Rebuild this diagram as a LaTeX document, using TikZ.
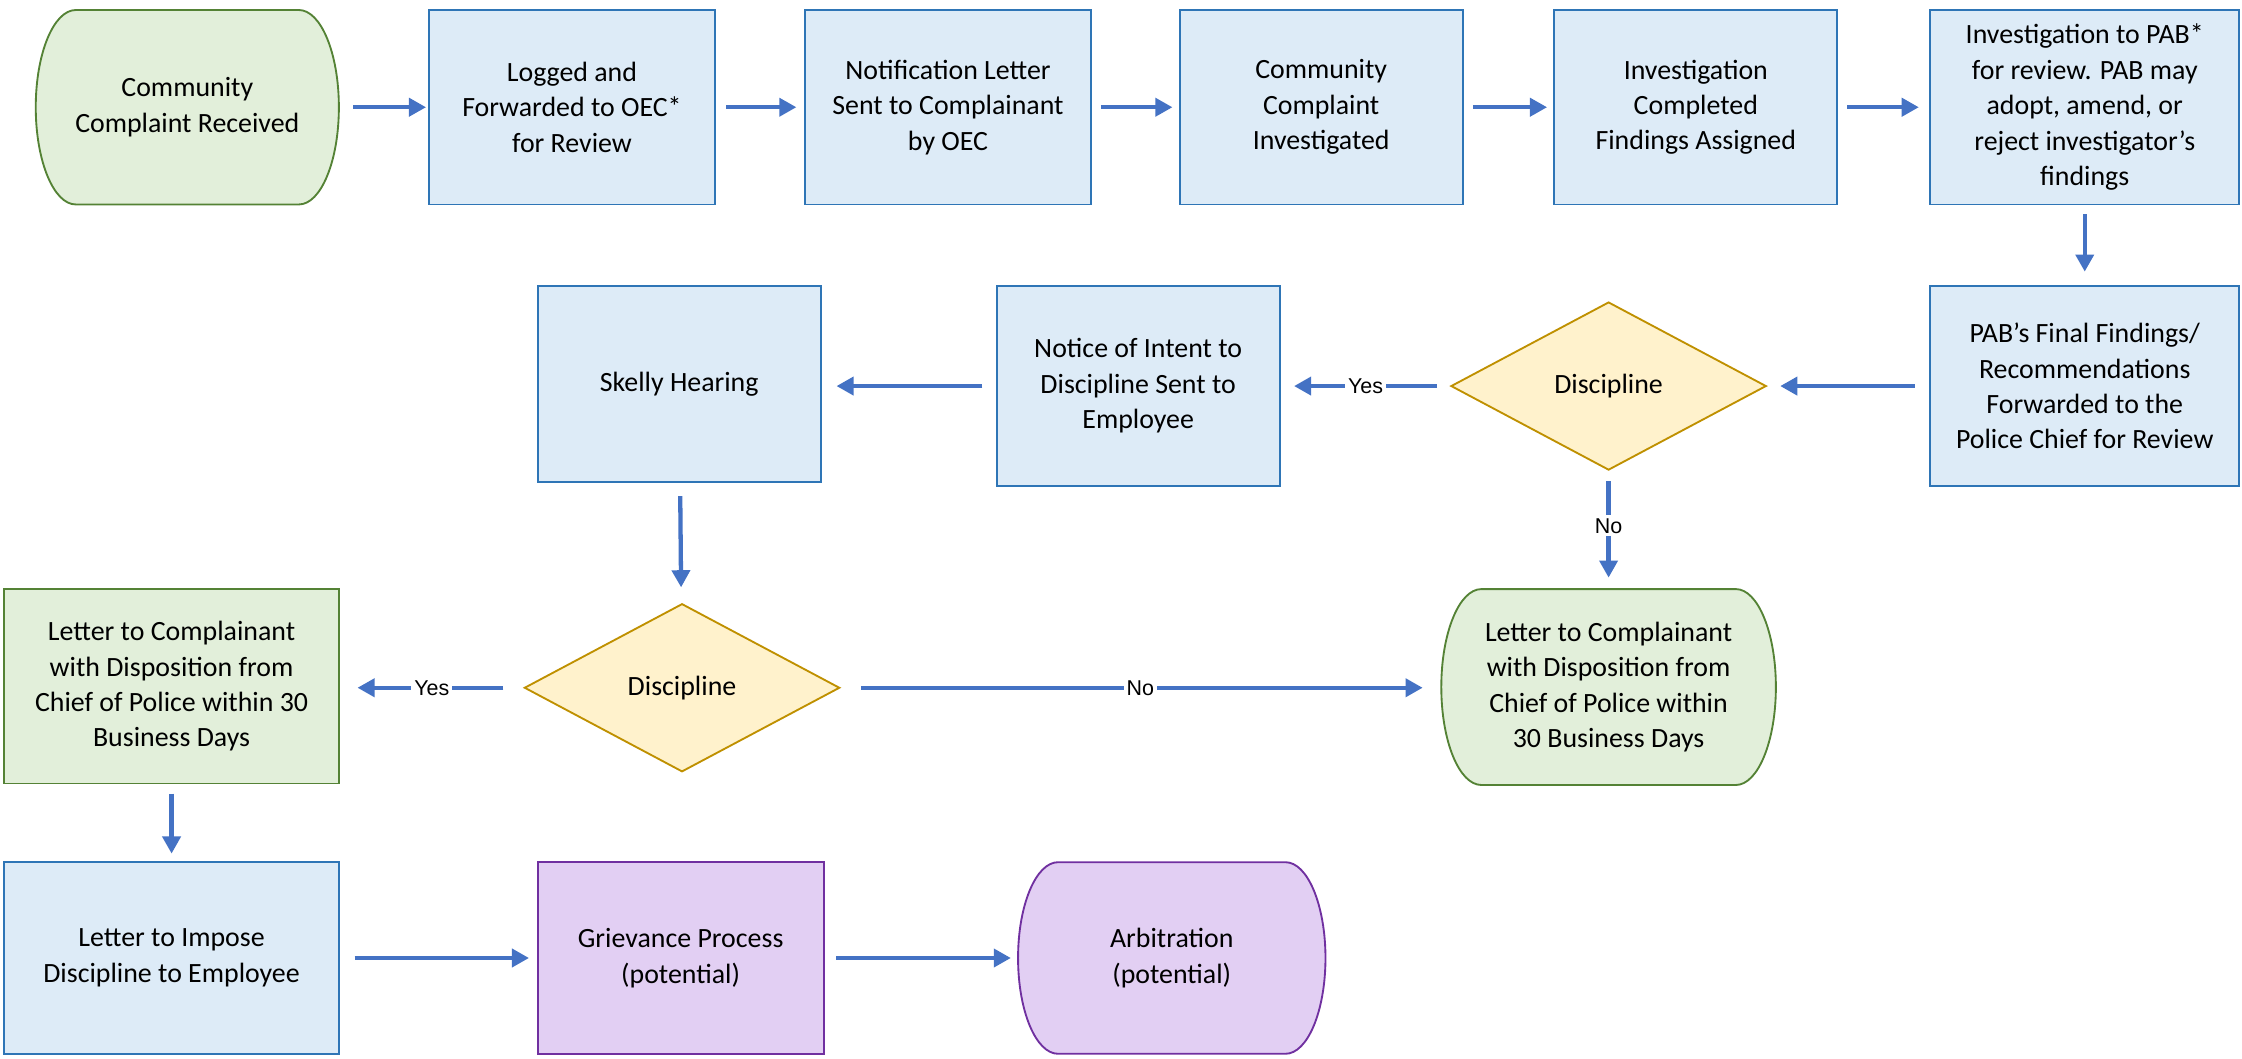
\documentclass[tikz,border=0pt]{standalone}
\usepackage{fontspec}
\setmainfont{Carlito}
\newfontfamily\lblfont{Liberation Sans}
\usetikzlibrary{shapes.geometric,arrows.meta,backgrounds}
\definecolor{bluefill}{HTML}{DDEBF7}
\definecolor{blueline}{HTML}{2E75B6}
\definecolor{greenfill}{HTML}{E2EFDA}
\definecolor{greenline}{HTML}{548235}
\definecolor{yelfill}{HTML}{FFF2CC}
\definecolor{yelline}{HTML}{BF9000}
\definecolor{purfill}{HTML}{E2CFF3}
\definecolor{purline}{HTML}{7030A0}
\definecolor{arrowblue}{HTML}{4472C4}
\newcommand\termshape[4]{%
  \begin{scope}[on background layer]
  \path[draw=#3, fill=#2, line width=1.3]
    ([xshift=28pt]#1.north west) -- ([xshift=-28pt]#1.north east)
    arc[start angle=90,end angle=-90,x radius=28,y radius=#4]
    -- ([xshift=28pt]#1.south west)
    arc[start angle=270,end angle=90,x radius=28,y radius=#4] -- cycle;
  \end{scope}}
\tikzset{
  boxtext/.style={align=center, font=\fontsize{19.5}{24.8}\selectfont, inner sep=0pt, outer sep=0pt},
  bluebox/.style={boxtext, draw=blueline, fill=bluefill, line width=1.3, rectangle},
  greenbox/.style={boxtext, draw=greenline, fill=greenfill, line width=1.3, rectangle},
  purbox/.style={boxtext, draw=purline, fill=purfill, line width=1.3, rectangle},
  termnode/.style={boxtext, rectangle},
  decision/.style={boxtext, diamond, aspect=1.9, draw=yelline, fill=yelfill, line width=1.3, minimum width=220, minimum height=117},
  arr/.style={draw=arrowblue, line width=3, -{Triangle[width=12.5,length=12]}},
  lbl/.style={fill=white, inner sep=2pt, font=\lblfont\fontsize{15}{18}\selectfont, text=black},
}
\begin{document}
\begin{tikzpicture}[x=1pt,y=1pt]
\useasboundingbox (0,0) rectangle (1568,-740.6);
% row 1
\node[termnode, minimum width=212, minimum height=136] (n1) at (131,-75) {Community\\Complaint Received};
\termshape{n1}{greenfill}{greenline}{68}
\node[bluebox, minimum width=200, minimum height=136] (n2) at (400,-75) {Logged and\\Forwarded to OEC*\\for Review};
\node[bluebox, minimum width=200, minimum height=136] (n3) at (663,-75) {Notification Letter\\Sent to Complainant\\by OEC};
\node[bluebox, minimum width=198, minimum height=136] (n4) at (924,-75) {Community\\Complaint\\Investigated};
\node[bluebox, minimum width=198, minimum height=136] (n5) at (1186,-75) {Investigation\\Completed\\Findings Assigned};
\node[bluebox, minimum width=216, minimum height=136] (n6) at (1458,-75) {Investigation to PAB*\\for review. PAB may\\adopt, amend, or\\reject investigator’s\\findings};
% row 2
\node[bluebox, minimum width=216, minimum height=140] (n7) at (1458,-270) {PAB’s Final Findings/\\Recommendations\\Forwarded to the\\Police Chief for Review};
\node[decision] (d1) at (1125,-270) {Discipline};
\node[bluebox, minimum width=198, minimum height=140] (n8) at (796,-270) {Notice of Intent to\\Discipline Sent to\\Employee};
\node[bluebox, minimum width=198, minimum height=137] (n9) at (475,-268.5) {Skelly Hearing};
% row 3
\node[decision] (d2) at (477,-481) {Discipline};
\node[termnode, minimum width=234, minimum height=137] (t2) at (1125,-480.5) {Letter to Complainant\\with Disposition from\\Chief of Police within\\30 Business Days};
\termshape{t2}{greenfill}{greenline}{68.5}
\node[greenbox, minimum width=234, minimum height=136] (g1) at (120,-480) {Letter to Complainant\\with Disposition from\\Chief of Police within 30\\Business Days};
% row 4
\node[bluebox, minimum width=234, minimum height=134] (n10) at (120,-670) {Letter to Impose\\Discipline to Employee};
\node[purbox, minimum width=200, minimum height=134] (p1) at (476,-670) {Grievance Process\\(potential)};
\node[termnode, minimum width=215, minimum height=134] (p2) at (819.5,-670) {Arbitration\\(potential)};
\termshape{p2}{purfill}{purline}{67}
% connectors
\draw[arr, shorten <=10, shorten >=2] (n1) -- (n2);
\draw[arr, shorten <=8, shorten >=6] (n2) -- (n3);
\draw[arr, shorten <=7, shorten >=5] (n3) -- (n4);
\draw[arr, shorten <=7, shorten >=5] (n4) -- (n5);
\draw[arr, shorten <=7, shorten >=8] (n5) -- (n6);
\draw[arr, shorten <=7, shorten >=10] (n6) -- (n7);
\draw[arr, shorten <=11, shorten >=10] (n7) -- (d1);
\draw[arr, shorten <=10, shorten >=10] (d1) -- node[lbl]{Yes} (n8);
\draw[arr, shorten <=10, shorten >=11] (n8) -- (n9.east |- n8.west);
\draw[arr, shorten <=10, shorten >=12] (n9) -- (d2);
\draw[arr, shorten <=8, shorten >=8] (d1) -- node[lbl, pos=0.47]{No} (t2);
\draw[arr, shorten <=15, shorten >=13] (d2) -- node[lbl]{No} (t2.west |- d2.east);
\draw[arr, shorten <=15, shorten >=13] (d2) -- node[lbl]{Yes} (g1.east |- d2.west);
\draw[arr, shorten <=7, shorten >=6] (g1) -- (n10);
\draw[arr, shorten <=11, shorten >=6] (n10) -- (p1);
\draw[arr, shorten <=9, shorten >=5] (p1) -- (p2);
\end{tikzpicture}
\end{document}
